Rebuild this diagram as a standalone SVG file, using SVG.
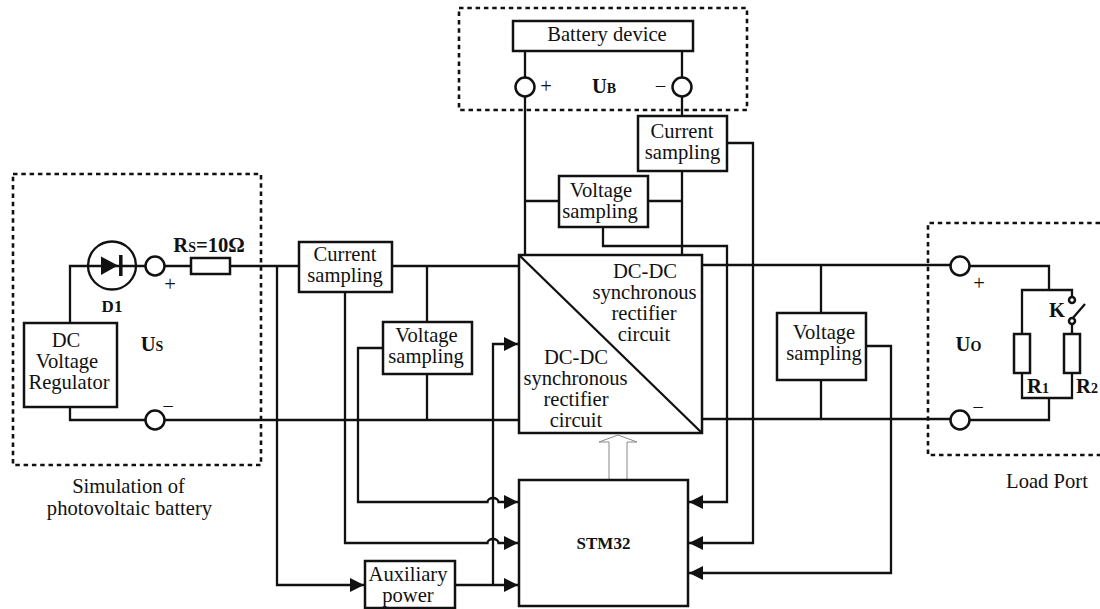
<svg xmlns="http://www.w3.org/2000/svg" width="1100" height="609" viewBox="0 0 1100 609">
<style>
text{font-family:"Liberation Serif","Times New Roman",serif;font-size:20.6px;fill:#111;text-anchor:middle}
.b{font-weight:bold}
.s{font-size:14px}
.box{fill:#fff;stroke:#111;stroke-width:2.5}
.w{fill:none;stroke:#111;stroke-width:2.3}
.term{fill:#fff;stroke:#111;stroke-width:2.5}
.dash{fill:none;stroke:#111;stroke-width:2.6;stroke-dasharray:4.5 3.8}
.hollow{fill:#fff;stroke:#888;stroke-width:1}
</style>
<defs>
<marker id="a" markerUnits="userSpaceOnUse" markerWidth="14" markerHeight="16" refX="14" refY="7" orient="auto"><path d="M0 0L14 7L0 14Z" fill="#111"/></marker>
</defs>
<rect class="dash" x="13" y="174" width="248" height="291"/>
<rect class="dash" x="459" y="8" width="288" height="102"/>
<path class="dash" d="M1100 223H928V455H1100"/>
<g id="connectors">
<path class="w" d="M70 323V266H145M165 266H191M230 266H299"/>
<path class="w" d="M70 407V420H145M165 420H519"/>
<path class="w" d="M277 266V585H364" marker-end="url(#a)"/>
<path class="w" d="M392 266H519M427 266V322M427 374V420"/>
<path class="w" d="M383 348H358V502H487.500a5.500 4 0 0 1 11 0H518" marker-end="url(#a)"/>
<path class="w" d="M345 292V543H487.500a5.500 4 0 0 1 11 0H518" marker-end="url(#a)"/>
<path class="w" d="M455 585H518" marker-end="url(#a)"/>
<path class="w" d="M493 585V344H518" marker-end="url(#a)"/>
<path class="w" d="M525 51V77M525 97V255M682 51V77M682 97V116M682 171V255M525 201H559M648 201H682"/>
<path class="w" d="M603 227V246H727V502H689" marker-end="url(#a)"/>
<path class="w" d="M727 143H753V543H689" marker-end="url(#a)"/>
<path class="w" d="M702 265H950M702 419H950M821 265V313M821 380V420"/>
<path class="w" d="M866 346H891V573H689" marker-end="url(#a)"/>
<path class="w" d="M970 266H1049V290M1022 334V290H1072V297M1072 324V334M1022 373V398H1072V373M1049 398V420H970M1072 319L1085 304"/>
</g>
<g id="d1"><circle class="w" cx="112" cy="265.500" r="24"/><path d="M101 256.500L118 265.500L101 275Z" fill="#111"/><path d="M120.800 255V276" stroke="#111" stroke-width="3.500"/><text class="b" style="font-size:17px" x="112" y="312">D1</text></g>
<g id="rs"><rect class="box" x="191" y="258" width="39" height="16"/><text class="b" x="209" y="252">R<tspan class="s">S</tspan>=10Ω</text></g>
<g id="t1"><circle class="term" cx="155" cy="266" r="9.500"/><text x="170" y="291">+</text></g>
<g id="t2"><circle class="term" cx="155" cy="420" r="9.500"/><text x="168" y="413">−</text></g>
<g id="reg"><rect class="box" x="24" y="323" width="93" height="84"/><text x="66" y="347">DC</text><text x="67" y="368">Voltage</text><text x="69" y="389">Regulator</text></g>
<text class="b" x="152" y="351">U<tspan class="s">S</tspan></text>
<g id="cs1"><rect class="box" x="299" y="242" width="93" height="50"/><text x="345" y="260.500">Current</text><text x="345" y="281.500">sampling</text></g>
<g id="vs1"><rect class="box" x="383" y="322" width="89" height="52"/><text x="426.500" y="342">Voltage</text><text x="426" y="363">sampling</text></g>
<g id="bat"><rect class="box" x="513" y="21" width="180" height="30"/><text x="607" y="41">Battery device</text></g>
<g id="tb1"><circle class="term" cx="525" cy="87" r="9.500"/><text x="546" y="93">+</text></g>
<g id="tb2"><circle class="term" cx="682" cy="87" r="9.500"/><text x="660.500" y="93">−</text></g>
<text class="b" x="604" y="93">U<tspan class="s">B</tspan></text>
<g id="cs2"><rect class="box" x="638" y="116" width="89" height="55"/><text x="682" y="137.500">Current</text><text x="682.500" y="159">sampling</text></g>
<g id="vs2"><rect class="box" x="559" y="176" width="89" height="51"/><text x="601" y="197">Voltage</text><text x="600" y="218">sampling</text></g>
<g id="conv"><rect class="box" x="519" y="255" width="183" height="178"/><path class="w" d="M519 255L702 433"/>
<text x="645" y="277.500">DC-DC</text><text x="644.500" y="298.500">synchronous</text><text x="644" y="319.500">rectifier</text><text x="644" y="341">circuit</text>
<text x="576" y="364">DC-DC</text><text x="575.500" y="385">synchronous</text><text x="576" y="406">rectifier</text><text x="576" y="427">circuit</text></g>
<path id="hollow" class="hollow" d="M609 480V442H599L618 435L637 442H627V480"/>
<g id="stm"><rect class="box" x="519" y="480" width="169" height="126"/><text class="b" style="font-size:17px" x="603.500" y="549">STM32</text></g>
<g id="aux"><rect class="box" x="365" y="561" width="90" height="47"/><text x="408" y="581">Auxiliary</text><text x="408" y="602">power</text></g>
<g id="vs3"><rect class="box" x="777" y="313" width="89" height="67"/><text x="824" y="339">Voltage</text><text x="824" y="360">sampling</text></g>
<g id="t3"><circle class="term" cx="960" cy="266" r="9.500"/><text x="979" y="290">+</text></g>
<g id="t4"><circle class="term" cx="960" cy="420" r="9.500"/><text x="978" y="414">−</text></g>
<text class="b" x="968.500" y="351">U<tspan class="s">O</tspan></text>
<g id="r1"><rect class="box" x="1014" y="334" width="16" height="39"/><text class="b" x="1038" y="393">R<tspan class="s">1</tspan></text></g>
<g id="r2"><rect class="box" x="1064" y="334" width="16" height="39"/><text class="b" x="1087" y="393">R<tspan class="s">2</tspan></text></g>
<g id="k"><circle class="term" cx="1072" cy="300" r="3"/><circle class="term" cx="1072" cy="321" r="3"/><text class="b" x="1057" y="317">K</text></g>
<text x="128.500" y="493">Simulation of</text><text x="129.500" y="515">photovoltaic battery</text>
<text x="1047" y="488">Load Port</text>
</svg>
